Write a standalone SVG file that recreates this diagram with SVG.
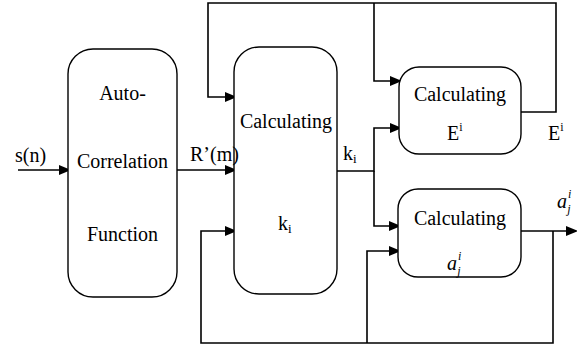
<svg xmlns="http://www.w3.org/2000/svg" width="577" height="347" viewBox="0 0 577 347" font-family="'Liberation Serif', 'DejaVu Serif', serif">
<style>
.box{fill:#fff;stroke:#000;stroke-width:1.4}
.ln{fill:none;stroke:#000;stroke-width:1.6}
text{font-family:'Liberation Serif','DejaVu Serif',serif;font-size:20px;fill:#000}
.c{text-anchor:middle}
.it{font-style:italic}
</style>
<defs>
<marker id="ah" markerUnits="userSpaceOnUse" markerWidth="12" markerHeight="10" refX="10" refY="5" orient="auto">
<path d="M0,0 L12,5 L0,10 z" fill="#000"/>
</marker>
</defs>
<g id="connectors">
<path class="ln" d="M18,170 H69" marker-end="url(#ah)"/>
<path class="ln" d="M177,170 H235" marker-end="url(#ah)"/>
<path class="ln" d="M521,112 H556 V3 H208 V97 H235" marker-end="url(#ah)"/>
<path class="ln" d="M374,3 V81 H400" marker-end="url(#ah)"/>
<path class="ln" d="M337,171 H374 V128 H400" marker-end="url(#ah)"/>
<path class="ln" d="M374,171 V226 H399" marker-end="url(#ah)"/>
<path class="ln" d="M516,231 H576" marker-end="url(#ah)"/>
<path class="ln" d="M553,231 V343 H201 V231 H235" marker-end="url(#ah)"/>
<path class="ln" d="M367,343 V251 H399" marker-end="url(#ah)"/>
</g>
<g id="acf">
<rect class="box" x="68" y="49" width="109" height="248" rx="25"/>
<text class="c" x="122.5" y="100">Auto-</text>
<text class="c" x="122.5" y="168">Correlation</text>
<text class="c" x="122.5" y="241">Function</text>
</g>
<g id="calc-k">
<rect class="box" x="234" y="47" width="103" height="247" rx="25"/>
<text class="c" x="286" y="128">Calculating</text>
<text x="278" y="230">k<tspan font-size="13" dy="3">i</tspan></text>
</g>
<g id="calc-e">
<rect class="box" x="399" y="67" width="122" height="87" rx="20"/>
<text class="c" x="460" y="101">Calculating</text>
<text x="447" y="140">E<tspan font-size="12" dy="-9">i</tspan></text>
</g>
<g id="calc-a">
<rect class="box" x="398" y="189" width="123" height="88" rx="20"/>
<text class="c" x="460" y="225">Calculating</text>
<text x="447" y="270" class="it">a<tspan font-size="12" dx="1" dy="-10">i</tspan><tspan font-size="12" dx="-4" dy="15">j</tspan></text>
</g>
<g id="labels">
<text x="15" y="162">s(n)</text>
<text x="190" y="161">R’(m)</text>
<text x="343" y="160">k<tspan font-size="13" dy="3">i</tspan></text>
<text x="548" y="140">E<tspan font-size="12" dy="-9">i</tspan></text>
<text x="557" y="208" class="it">a<tspan font-size="12" dx="1" dy="-10">i</tspan><tspan font-size="12" dx="-4" dy="15">j</tspan></text>
</g>
</svg>
